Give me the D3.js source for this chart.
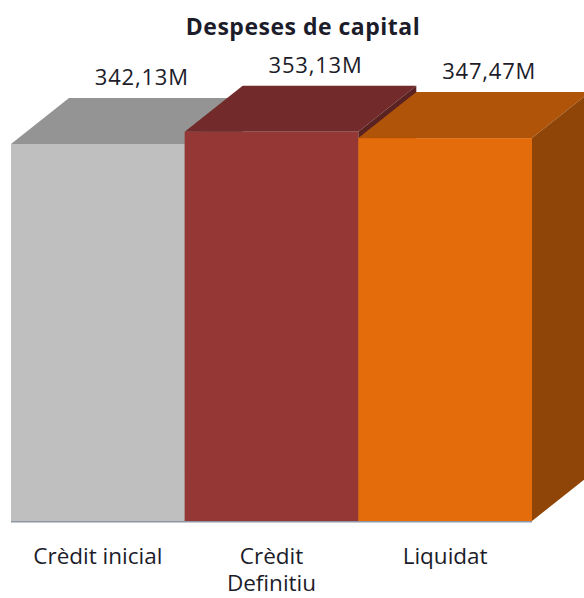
<!DOCTYPE html>
<html>
<head>
<meta charset="utf-8">
<script src="https://cdn.jsdelivr.net/npm/d3@7/dist/d3.min.js"></script>
<style>
  html, body { margin: 0; padding: 0; background: #fff; }
  svg text { font-family: "Open Sans", "DejaVu Sans", sans-serif; fill: #1c1c2a; }
</style>
</head>
<body>
<svg id="chart" width="584" height="598"></svg>
<script>
const title = "Despeses de capital";
const categories = ["Crèdit inicial", "Crèdit Definitiu", "Liquidat"];
const categoryLines = [["Crèdit inicial"], ["Crèdit", "Definitiu"], ["Liquidat"]];
const values = [342.13, 353.13, 347.47];
const valueLabels = ["342,13M", "353,13M", "347,47M"];
const frontColors = ["#bfbfbf", "#953735", "#e46c0a"];
const topColors = ["#949494", "#722b2a", "#b0540a"];
const sideColors = ["#7a7a7a", "#5a2221", "#8f4507"];

const svg = d3.select("#chart");
const baseY = 521;
const dx = 58, dy = 46;

const x = d3.scaleBand().domain(categories).range([11, 532]).paddingInner(0).paddingOuter(0);
const y = d3.scaleLinear().domain([0, 400]).range([baseY, baseY - 1.102 * 400]);

// floor line
svg.append("line")
  .attr("x1", x.range()[0]).attr("x2", x.range()[1])
  .attr("y1", baseY + 0.5).attr("y2", baseY + 0.5)
  .attr("stroke", "#8d97a5").attr("stroke-width", 2);

const data = categories.map((c, i) => ({ c, v: values[i], i }));

const g = svg.append("g");
data.forEach(d => {
  const x0 = x(d.c), x1 = x(d.c) + x.bandwidth();
  const yT = y(d.v), yB = y(0);
  const bar = g.append("g");
  bar.append("rect")
    .attr("x", x0).attr("y", yT).attr("width", x1 - x0).attr("height", yB - yT)
    .attr("fill", frontColors[d.i]);
  bar.append("path")
    .attr("d", `M${x0},${yT}L${x1},${yT}L${x1 + dx},${yT - dy}L${x0 + dx},${yT - dy}Z`)
    .attr("fill", topColors[d.i]);
  bar.append("path")
    .attr("d", `M${x1},${yT}L${x1 + dx},${yT - dy}L${x1 + dx},${yB - dy}L${x1},${yB}Z`)
    .attr("fill", sideColors[d.i]);
});

// value labels
svg.append("g").selectAll("text").data(data).join("text")
  .attr("x", d => x(d.c) + x.bandwidth() / 2 + 44)
  .attr("y", d => y(d.v) - dy - 13)
  .attr("text-anchor", "middle")
  .attr("font-size", 22)
  .attr("letter-spacing", 0.8)
  .text(d => valueLabels[d.i]);

// category labels
const cat = svg.append("g").selectAll("text").data(data).join("text")
  .attr("x", d => x(d.c) + x.bandwidth() / 2)
  .attr("y", 564)
  .attr("text-anchor", "middle")
  .attr("font-size", 22.5);
cat.each(function(d) {
  const t = d3.select(this);
  categoryLines[d.i].forEach((line, k) => {
    t.append("tspan").attr("x", x(d.c) + x.bandwidth() / 2).attr("dy", k === 0 ? 0 : 27).text(line);
  });
});

// title
svg.append("text")
  .attr("x", 303).attr("y", 35)
  .attr("text-anchor", "middle")
  .attr("font-size", 23).attr("font-weight", "bold")
  .attr("letter-spacing", 0.5)
  .text(title);
</script>
</body>
</html>
